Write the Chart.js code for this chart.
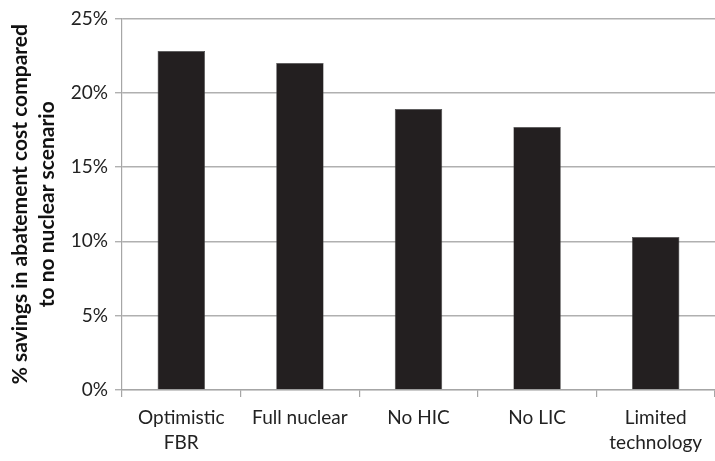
<!DOCTYPE html>
<html><head><meta charset="utf-8">
<script src="https://cdn.jsdelivr.net/npm/chart.js@4"></script>
<style>html,body{margin:0;padding:0;background:#fff}#wrap{width:715px;height:461px}</style>
</head><body><div id="wrap"><canvas id="c"></canvas></div>
<script>
const categories = [['Optimistic','FBR'], 'Full nuclear', 'No HIC', 'No LIC', ['Limited','technology']];
const savings = [22.8, 22.0, 18.9, 17.7, 10.3];
const yTitle = ['% savings in abatement cost compared', 'to no nuclear scenario'];
const FONT = 'Lato, "Open Sans", sans-serif';
new Chart(document.getElementById('c'), {
  type: 'bar',
  data: { labels: categories, datasets: [{ data: savings, backgroundColor: '#231f20', borderColor: '#4a4a4a', borderWidth: 0.6, barPercentage: 0.4, categoryPercentage: 1 }] },
  options: {
    responsive: true, maintainAspectRatio: false, animation: false,
    layout: { padding: { top: 15, right: 0, left: 0, bottom: 0 } },
    plugins: { legend: { display: false }, tooltip: { enabled: false } },
    scales: {
      x: {
        grid: { drawOnChartArea: false, color: '#a6a6a6', lineWidth: 1.2, tickLength: 7 },
        border: { color: '#a6a6a6', width: 1.2 },
        ticks: { color: '#222', font: { family: FONT, size: 19, lineHeight: 1.3 }, padding: 9, maxRotation: 0, autoSkip: false },
        afterFit: s => { s.height = 71; }
      },
      y: {
        min: 0, max: 25,
        grid: { color: '#b0b0b0', lineWidth: 1.4, tickLength: 7 },
        border: { color: '#a6a6a6', width: 1.2 },
        ticks: { stepSize: 5, color: '#222', font: { family: FONT, size: 19 }, padding: 7, callback: v => v + '%' },
        title: { display: true, text: yTitle, color: '#111', font: { family: FONT, size: 21, weight: 'bold', lineHeight: 1.32 }, padding: { top: 6, bottom: 0 } },
        afterFit: s => { s.width = 122; }
      }
    }
  }
});
</script></body></html>
